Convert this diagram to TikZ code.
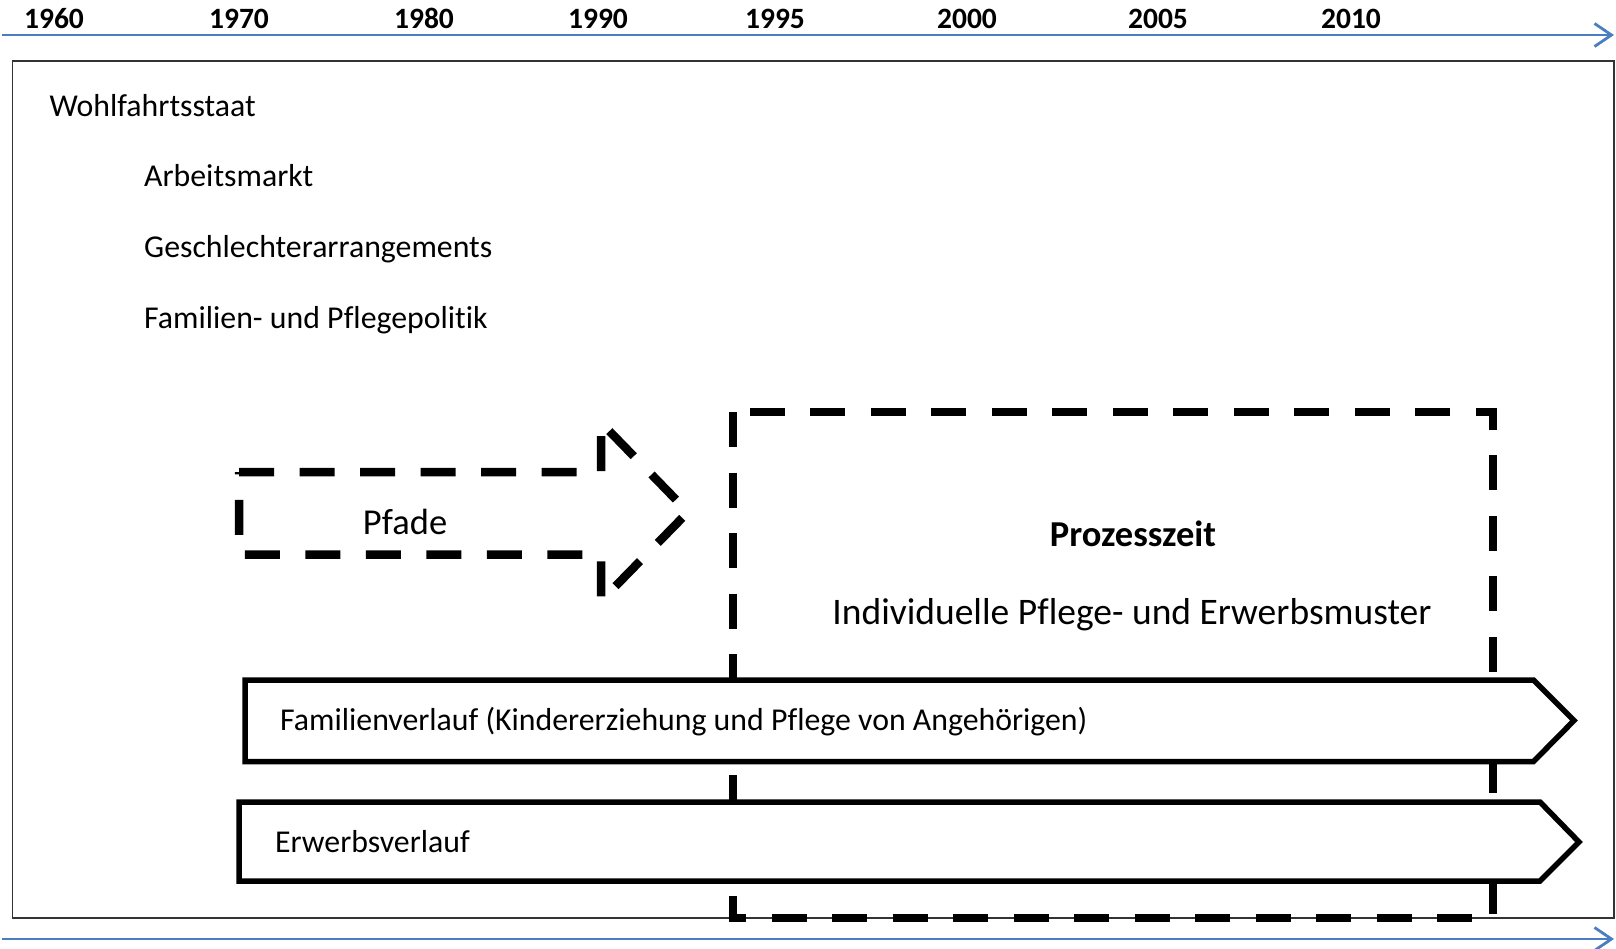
\documentclass[tikz,border=0pt]{standalone}
\usepackage{fontspec}
\setmainfont{Carlito}[Ligatures = NoCommon]
\usetikzlibrary{arrows.meta, positioning}
\definecolor{axisblue}{RGB}{74,126,193}

\begin{document}
\begin{tikzpicture}[
        x = 1pt, y = -1pt,
        node distance = 71pt,
        on grid,
        >= {Straight Barb[length = 17pt, width = 23pt]},
        timeline/.style = {->, draw = axisblue, line width = 2.8pt},
        year/.style = {inner sep = 0pt, text height = 19pt, text depth = 0pt, font = \fontsize{29.5}{35}\selectfont\bfseries},
        txt/.style = {anchor = west, inner sep = 0pt, text height = 20.5pt, text depth = 0pt, font = \fontsize{31.8}{38}\selectfont},
        bigtxt/.style = {inner sep = 0pt, text height = 23.5pt, text depth = 0pt, font = \fontsize{36.5}{44}\selectfont},
        dashbox/.style = {draw, line width = 8.5pt, dash pattern = on 35pt off 25.5pt},
        flow/.style = {draw, fill = white, line width = 5.5pt, line join = miter}
    ]

    \useasboundingbox (0,0) rectangle (1616,948);

    \coordinate (t0) at (2,35);
    \coordinate (t1) at (1614,35);
    \coordinate (b0) at (2,939);
    \coordinate (b1) at (1614,939);
    \draw[timeline] (t0) -- (t1);
    \draw[timeline] (b0) -- (b1);

    \foreach \yr/\xx in {1960/54, 1970/239, 1980/424, 1990/598, 1995/775, 2000/967, 2005/1158, 2010/1351}
        \node[year] (y\yr) at (\xx,19) {\yr};

    \draw[black!80, line width = 1.6pt] (12.5,61) rectangle (1614,918);

    \node[txt] (wohl) at (49.5,106) {Wohlfahrtsstaat};
    \node[txt] (arbeit) at (144,176) {Arbeitsmarkt};
    \node[below = of arbeit.west, txt] (geschl) {Geschlechterarrangements};
    \node[below = of geschl.west, txt] (politik) {Familien- und Pflegepolitik};

    \draw[dashbox] (733,412) rectangle (1493,918);
    \node[bigtxt, font = \fontsize{36.5}{44}\selectfont\bfseries] (proz) at (1133,535) {Prozesszeit};
    \node[bigtxt, font = \fontsize{37.5}{45}\selectfont] (muster) at (1132,613) {Individuelle Pflege- und Erwerbsmuster};

    \draw[dashbox] (239,472) -- (601,472) -- (601,422.5) -- (688,512)
        -- (601,601) -- (601,554.5) -- (239,554.5) -- cycle;
    \node[bigtxt] (pfade) at (405,522.5) {Pfade};

    \draw[flow] (245,680) -- (1533.5,680) -- (1574,720.5) -- (1533.5,761.5) -- (245,761.5) -- cycle;
    \node[txt] (familie) at (280,720.5) {Familienverlauf (Kindererziehung und Pflege von Angehörigen)};

    \draw[flow] (239,802) -- (1540,802) -- (1579,842) -- (1540,881) -- (239,881) -- cycle;
    \node[txt] (erwerb) at (275,842) {Erwerbsverlauf};

\end{tikzpicture}
\end{document}
